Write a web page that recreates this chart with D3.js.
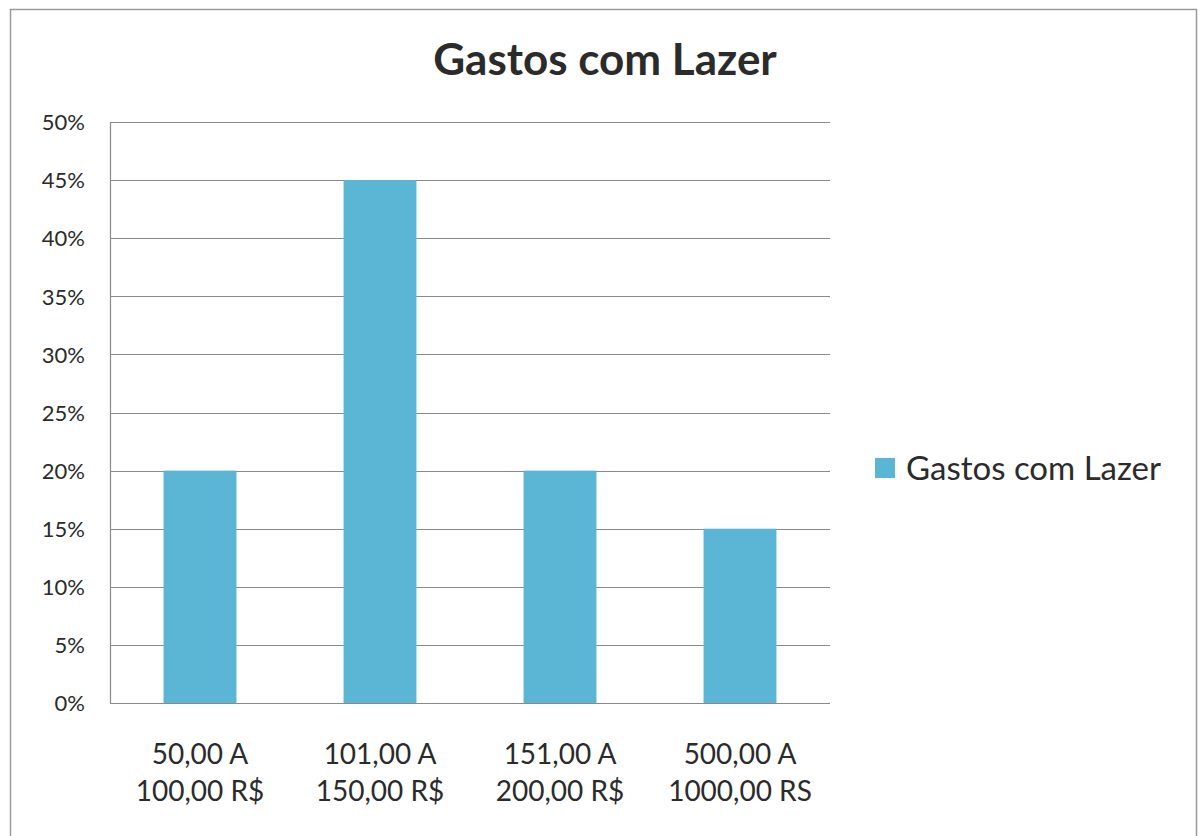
<!DOCTYPE html>
<html>
<head>
<meta charset="utf-8">
<script src="https://cdn.jsdelivr.net/npm/d3@7"></script>
<style>
  body { margin: 0; background: #fff; }
  text { font-family: Lato, "Open Sans", sans-serif; fill: #2b2b2b; }
</style>
</head>
<body>
<div id="chart"></div>
<script>
// data
var categories = [
  ['50,00 A', '100,00 R$'],
  ['101,00 A', '150,00 R$'],
  ['151,00 A', '200,00 R$'],
  ['500,00 A', '1000,00 RS']
];
var values = [0.20, 0.45, 0.20, 0.15];
var yTicks = [0, 0.05, 0.10, 0.15, 0.20, 0.25, 0.30, 0.35, 0.40, 0.45, 0.50];
var seriesName = 'Gastos com Lazer';
var title = 'Gastos com Lazer';

var width = 1203,
    height = 836,
    barFill = '#5bb6d6',
    gridColor = '#8a8a8a',
    plot = { left: 110, right: 830, top: 122, bottom: 703 };

var svg = d3.select('#chart')
    .append('svg')
    .attr('width', width)
    .attr('height', height);

// outer chart frame
svg.append('rect')
    .attr('x', 10.5)
    .attr('y', 9.5)
    .attr('width', 1186)
    .attr('height', 840)
    .attr('fill', 'none')
    .attr('stroke', '#9a9a9a')
    .attr('stroke-width', 1.5);

var x = d3.scaleBand()
    .domain(d3.range(categories.length))
    .range([plot.left, plot.right])
    .paddingInner(0.595)
    .paddingOuter(0.2975);

var y = d3.scaleLinear()
    .domain([0, 0.5])
    .range([plot.bottom, plot.top]);

// gridlines
svg.append('g')
    .selectAll('line')
    .data(yTicks)
    .join('line')
    .attr('x1', plot.left)
    .attr('x2', plot.right)
    .attr('y1', function (d) { return Math.round(y(d)) + 0.5; })
    .attr('y2', function (d) { return Math.round(y(d)) + 0.5; })
    .attr('stroke', gridColor)
    .attr('stroke-width', 1.2);

// bars
svg.append('g')
    .selectAll('rect')
    .data(values)
    .join('rect')
    .attr('x', function (d, i) { return x(i); })
    .attr('width', x.bandwidth())
    .attr('y', function (d) { return y(d); })
    .attr('height', function (d) { return y(0) - y(d); })
    .attr('fill', barFill);

// y axis
var yAxis = svg.append('g')
    .attr('transform', 'translate(' + plot.left + ',0)')
    .call(d3.axisLeft(y)
        .tickValues(yTicks)
        .tickSize(0)
        .tickPadding(25)
        .tickFormat(d3.format('.0%')));
yAxis.select('.domain').attr('stroke', gridColor).attr('stroke-width', 1.2);
yAxis.selectAll('text')
    .attr('font-size', 22)
    .attr('font-family', 'Lato, sans-serif')
    .attr('dy', '0.35em')
    .attr('fill', '#2b2b2b');

// x axis labels (two lines each)
var xLabels = svg.append('g')
    .selectAll('text')
    .data(categories)
    .join('text')
    .attr('text-anchor', 'middle')
    .attr('font-size', 28)
    .attr('x', function (d, i) { return x(i) + x.bandwidth() / 2; });
xLabels.selectAll('tspan')
    .data(function (d) { return d; })
    .join('tspan')
    .attr('x', function () { return d3.select(this.parentNode).attr('x'); })
    .attr('y', function (d, i) { return 764 + i * 37; })
    .text(function (d) { return d; });

// title
svg.append('text')
    .attr('x', 605)
    .attr('y', 75)
    .attr('text-anchor', 'middle')
    .attr('font-size', 44)
    .attr('font-weight', 'bold')
    .attr('fill', '#3a3a3a')
    .text(title);

// legend
var legend = svg.append('g').attr('transform', 'translate(875,458)');
legend.append('rect')
    .attr('width', 20)
    .attr('height', 20)
    .attr('fill', barFill);
legend.append('text')
    .attr('x', 31)
    .attr('y', 22)
    .attr('font-size', 33)
    .text(seriesName);
</script>
</body>
</html>
